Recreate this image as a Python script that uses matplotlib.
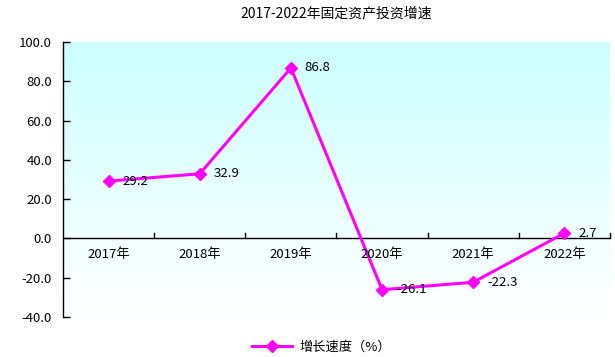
import matplotlib
matplotlib.use("Agg")
import matplotlib.pyplot as plt
import numpy as np
from matplotlib.colors import LinearSegmentedColormap
from matplotlib import transforms

plt.rcParams['font.family'] = ['Noto Sans CJK SC', 'DejaVu Sans']

categories = ['2017年', '2018年', '2019年', '2020年', '2021年', '2022年']
values = [29.2, 32.9, 86.8, -26.1, -22.3, 2.7]
yticks = [-40, -20, 0, 20, 40, 60, 80, 100]
title = '2017-2022年固定资产投资增速'
series_name = '增长速度（%）'

fig = plt.figure(figsize=(6.15, 3.57), dpi=100)
ax = fig.add_axes([63/615, 40/357, 547/615, 275/357])

x = np.arange(len(categories))
ax.set_xlim(-0.5, len(categories) - 0.5)
ax.set_ylim(-40, 100)

# gradient background
cmap = LinearSegmentedColormap.from_list('bg', ['#FFFFFF', '#CCFFFF'])
grad = np.linspace(0, 1, 256).reshape(-1, 1)
ax.imshow(grad, aspect='auto', cmap=cmap, origin='lower',
          extent=(-0.5, len(categories) - 0.5, -40, 100), zorder=0)

color = '#FF00FF'
line, = ax.plot(x, values, color=color, lw=2.2, marker='D', ms=6.5,
                markeredgecolor=color, markerfacecolor=color, zorder=3,
                label=series_name)

for xi, v in zip(x, values):
    ax.annotate(f'{v:.1f}', (xi, v), xytext=(10, 0), textcoords='offset points',
                ha='left', va='center', fontsize=9.5, color='black', zorder=4)

# spines
for s in ['top', 'right', 'bottom']:
    ax.spines[s].set_visible(False)
ax.spines['left'].set_color('black')
ax.spines['left'].set_linewidth(1)

ax.axhline(0, color='black', lw=1, zorder=2)

ax.set_yticks(yticks)
ax.set_yticklabels([f'{t:.1f}' for t in yticks], fontsize=9.5)
ax.tick_params(axis='y', direction='in', length=5, width=1, pad=8)

# category ticks on the zero line, between categories
ax.set_xticks([])
for b in np.arange(0.5, len(categories) - 0.5, 1.0):
    ax.plot([b, b], [0, 0], alpha=0)
trans_tick = transforms.blended_transform_factory(ax.transData, ax.transData)
tick_h = 140 * 5 / 275
for b in list(np.arange(0.5, len(categories) - 0.5, 1.0)) + [len(categories) - 0.5]:
    ax.plot([b, b], [0, tick_h], color='black', lw=1, zorder=2, clip_on=False)

for xi, c in zip(x, categories):
    ax.annotate(c, (xi, 0), xytext=(0, -7), textcoords='offset points',
                ha='center', va='top', fontsize=9.5, zorder=4)

fig.suptitle(title, x=(63 + 547/2) / 615, y=1 - 13/357, va='center', fontsize=10)

leg = fig.legend(handles=[line], loc='center', bbox_to_anchor=(322/615, 1 - 347/357),
                 frameon=False, fontsize=9.5, handlelength=3, handletextpad=0.6)

fig.savefig('out.png', dpi=100)
